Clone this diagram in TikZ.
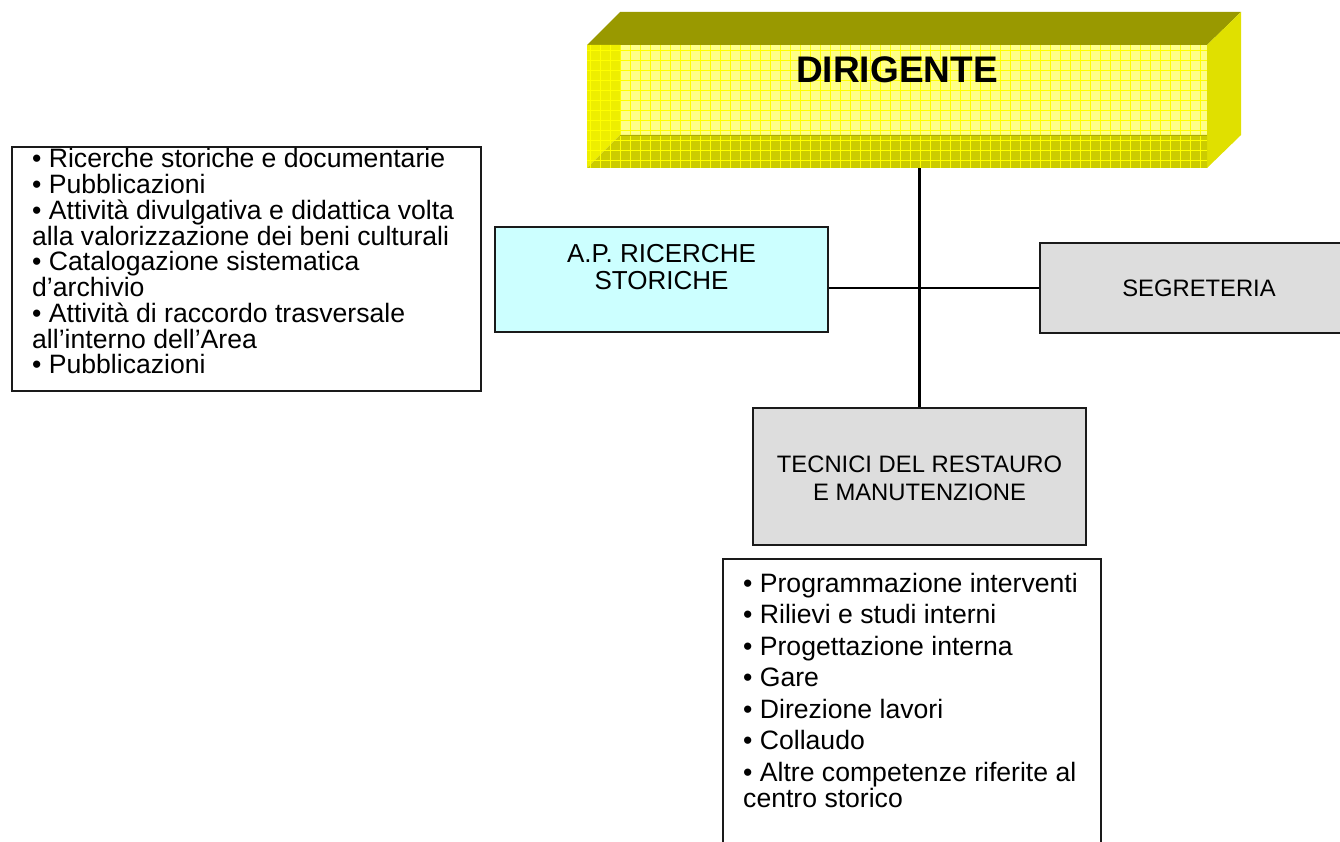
\documentclass[tikz,border=0pt]{standalone}
\usepackage{fontspec}
\setmainfont{Liberation Sans}
\definecolor{topf}{HTML}{999900}
\definecolor{rightf}{HTML}{E0E000}
\definecolor{innerf}{HTML}{FFFF88}
\definecolor{leftf}{HTML}{EEEE00}
\definecolor{botf}{HTML}{CCCC00}
\definecolor{gridc}{HTML}{FFFF00}
\definecolor{cyanf}{HTML}{CCFFFF}
\definecolor{grayf}{HTML}{DDDDDD}
\definecolor{edge}{HTML}{1A1A1A}
\tikzset{
  box/.style={draw=edge, line width=2pt, inner sep=0pt},
  conn/.style={draw=black, line width=2.2pt},
  gridline/.style={draw=gridc, line width=0.9pt},
  txt/.style={inner sep=0pt, anchor=base},
  txtl/.style={inner sep=0pt, anchor=base west},
}
\begin{document}
\begin{tikzpicture}[x=1pt,y=-1pt]
\useasboundingbox (0,0) rectangle (1340,842);
\clip (0,0) rectangle (1340,842);

% ---- DIRIGENTE 3D block ----
\node[inner sep=0pt, minimum width=620pt, minimum height=123pt] (dir) at (897,106.5) {};
\fill[topf] (587,45) -- (620,12) -- (1241,12) -- (1207,45) -- cycle;
\fill[rightf] (1207,45) -- (1241,12) -- (1241,135) -- (1207,168) -- cycle;
\fill[innerf] (620,45) rectangle (1207,135);
\fill[leftf] (587,45) -- (620,45) -- (620,135) -- (587,168) -- cycle;
\fill[botf] (587,168) -- (620,135) -- (1207,135) -- (1207,168) -- cycle;
\foreach \gx in {590,600,...,1200} \draw[gridline] (\gx,45) -- (\gx,168);
\foreach \gy in {50,60,...,160} \draw[gridline] (587,\gy) -- (1207,\gy);
\draw[botf!85!black, line width=0.6pt] (620,135) -- (1207,135);
\node[txt] (dirtxt) at (897,83) {\fontsize{37pt}{40pt}\selectfont\bfseries DIRIGENTE};

% ---- boxes and connectors ----
\node[box, fill=grayf, minimum width=333pt, minimum height=137pt] (tec) at (919.5,476.5) {};
\node[box, fill=cyanf, minimum width=333pt, minimum height=105pt] (ap) at (661.5,279.5) {};
\node[box, fill=grayf, minimum width=318pt, minimum height=90pt] (seg) at (1199,288) {};
\draw[conn] (dir.south -| tec.north) -- (tec.north);
\draw[conn] (ap.east |- seg.west) -- (seg.west);

% ---- left list box ----
\node[box, minimum width=469pt, minimum height=244pt] (lbox) at (246.5,269) {};
\node[txtl] (ltxt) at (32,168) {\begin{minipage}[t]{600pt}\fontsize{26.6pt}{25.75pt}\selectfont
• Ricerche storiche e documentarie\\
• Pubblicazioni\\
• Attività divulgativa e didattica volta\\
alla valorizzazione dei beni culturali\\
• Catalogazione sistematica\\
d’archivio\\
• Attività di raccordo trasversale\\
all’interno dell’Area\\
• Pubblicazioni
\end{minipage}};

% ---- box texts ----
\node[txt] (aptxt) at (661.5,262) {\begin{minipage}[t]{333pt}\centering\fontsize{26pt}{27pt}\selectfont
A.P. RICERCHE\\STORICHE\end{minipage}};
\node[txt] (segtxt) at (1199,296.5) {\fontsize{23.8pt}{28pt}\selectfont SEGRETERIA};
\node[txt] (tectxt) at (919.5,472) {\begin{minipage}[t]{333pt}\centering\fontsize{23.8pt}{28pt}\selectfont
TECNICI DEL RESTAURO\\E MANUTENZIONE\end{minipage}};

% ---- bottom list box ----
\node[box, minimum width=378pt, minimum height=320pt] (bbox) at (912,719) {};
\node[txtl] (btxt) at (743,592) {\begin{minipage}[t]{600pt}\fontsize{26.6pt}{26.5pt}\selectfont\setlength{\parskip}{5pt}%
• Programmazione interventi\par
• Rilievi e studi interni\par
• Progettazione interna\par
• Gare\par
• Direzione lavori\par
• Collaudo\par
• Altre competenze riferite al\\
centro storico
\end{minipage}};
\end{tikzpicture}
\end{document}
